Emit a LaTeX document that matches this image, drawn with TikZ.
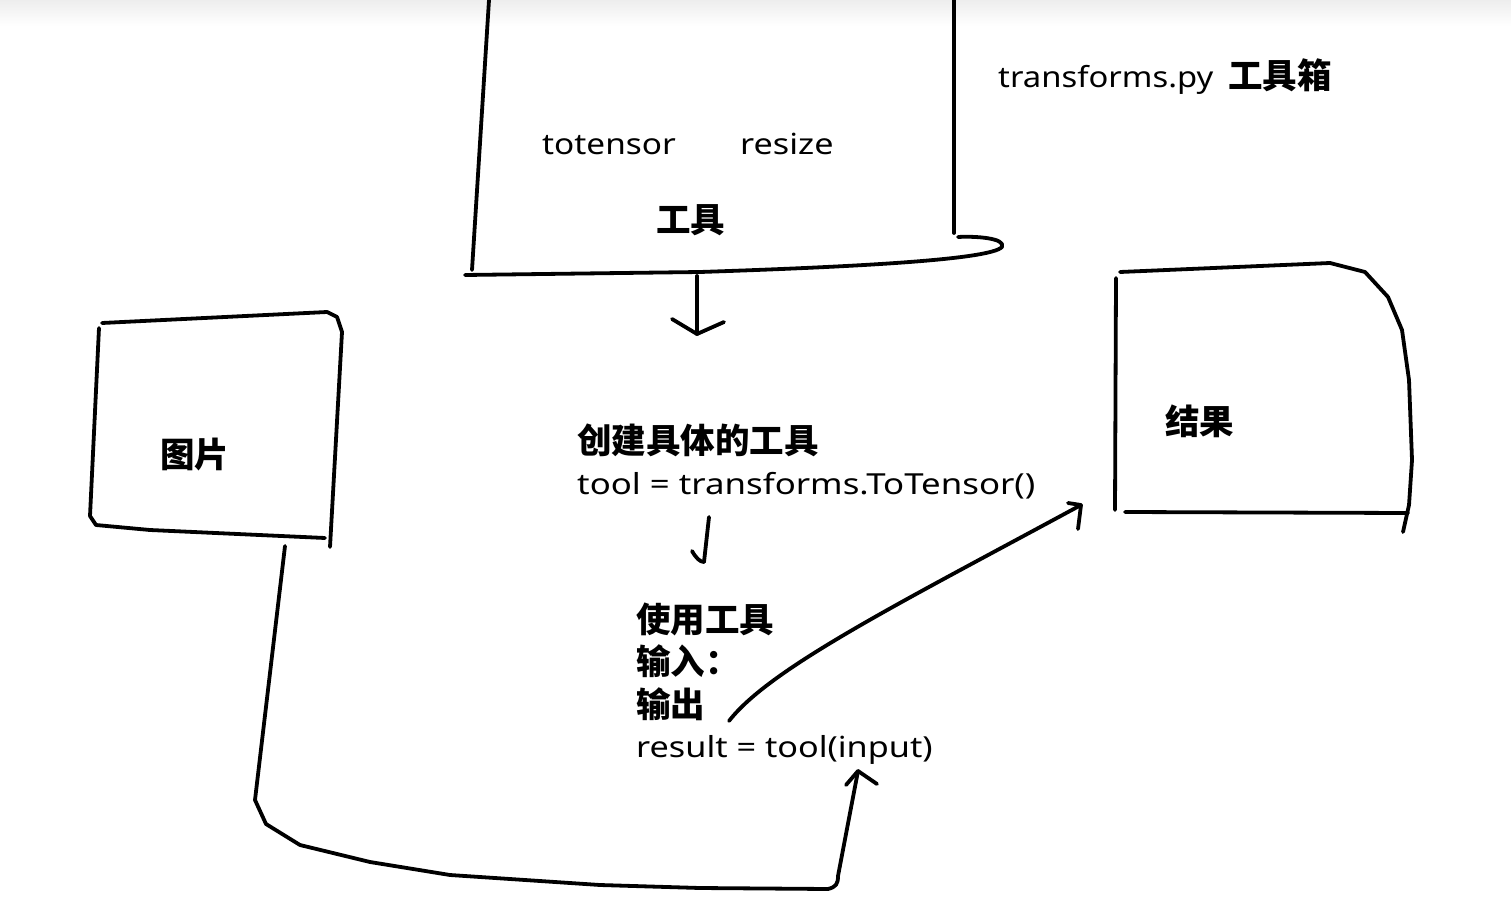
\documentclass[tikz,border=0pt]{standalone}
\usepackage{graphicx}
\usepackage{fontspec}
\setmainfont{Noto Sans}
\newfontfamily\cjk{Noto Sans CJK SC}
\newcommand{\hwtext}[2][1.18]{\scalebox{#1}[1]{#2}}
\begin{document}
\begin{tikzpicture}[x=1pt,y=-1pt,
  stroke/.style={line width=3.8pt,line cap=round,line join=round},
  hw/.style={font=\fontsize{29}{34}\selectfont,anchor=base west,inner sep=0pt},
  cn/.style={font=\cjk\bfseries\fontsize{34.5}{40}\selectfont,anchor=base west,inner sep=0pt}]
\useasboundingbox (0,0) rectangle (1511,909);
\shade[top color=gray!14,bottom color=white] (0,0) rectangle (1511,26);

% ---- texts ----
\node[hw] (tpy) at (998,88) {\hwtext[1.13]{transforms.py}};
\node[cn] (box) at (1228,89) {工具箱};
\node[hw] (tot) at (542,155) {\hwtext[1.15]{totensor}};
\node[hw] (res) at (740,155) {\hwtext{resize}};
\node[cn] (gj) at (656,233) {工具};
\node[cn] (cj) at (577,453) {创建具体的工具};
\node[hw] (code1) at (577,494) {\hwtext[1.2]{tool = transforms.ToTensor()}};
\node[cn] (sy) at (636,632) {使用工具};
\node[cn] (sr) at (636,674) {输入：};
\node[cn] (sc) at (636,717) {输出};
\node[hw] (code2) at (636,757) {\hwtext{result = tool(input)}};
\node[cn] (tp) at (160,467) {图片};
\node[cn] (jg) at (1165,434) {结果};

% ---- toolbox ----
\draw[stroke] (489,0) -- (472,270);
\draw[stroke] (954,0) -- (954,233);
\draw[stroke] (465,275) -- (700,272) .. controls (850,267) and (990,260) .. (1002,247)
      .. controls (1006,238) and (975,236) .. (958,237);

% ---- picture box ----
\draw[stroke] (102,323) -- (327,312) -- (337,317) -- (342,332) -- (330,547);
\draw[stroke] (99,328) -- (90,516) -- (96,525) -- (150,530) -- (325,538);

% ---- result box ----
\draw[stroke] (1120,272) -- (1330,263) -- (1365,272) -- (1388,297) -- (1402,330)
      -- (1409,380) -- (1412,460) -- (1409,505) -- (1403,532);
\draw[stroke] (1116,278) -- (1115,510);
\draw[stroke] (1125,512) -- (1408,513);

% ---- connectors ----
\coordinate (a1s) at (697,276);
\coordinate (a1e) at (697,334);
\draw[stroke] (a1s) -- (a1e);
\draw[stroke] (672,319) -- (a1e) -- (724,322);

\coordinate (a2s) at (709,517);
\coordinate (a2e) at (704,562);
\draw[stroke] (a2s) -- (a2e);
\draw[stroke] (692,551) .. controls (696,558) and (700,562) .. (a2e);

\coordinate (a3s) at (285,546);
\coordinate (a3e) at (858,771);
\draw[stroke] (a3s) -- (255,800) -- (266,824) -- (300,845) -- (370,862) -- (450,875)
      -- (600,885) -- (700,888) -- (828,889) .. controls (836,887) and (838,884) .. (838,876) -- (a3e);
\draw[stroke] (846,785) -- (a3e) -- (877,784);

\coordinate (a4s) at (729,721);
\coordinate (a4e) at (1081,505);
\draw[stroke] (a4s) .. controls (770,668) and (900,603) .. (a4e);
\draw[stroke] (1068,503) -- (a4e) -- (1078,529);
\end{tikzpicture}
\end{document}
